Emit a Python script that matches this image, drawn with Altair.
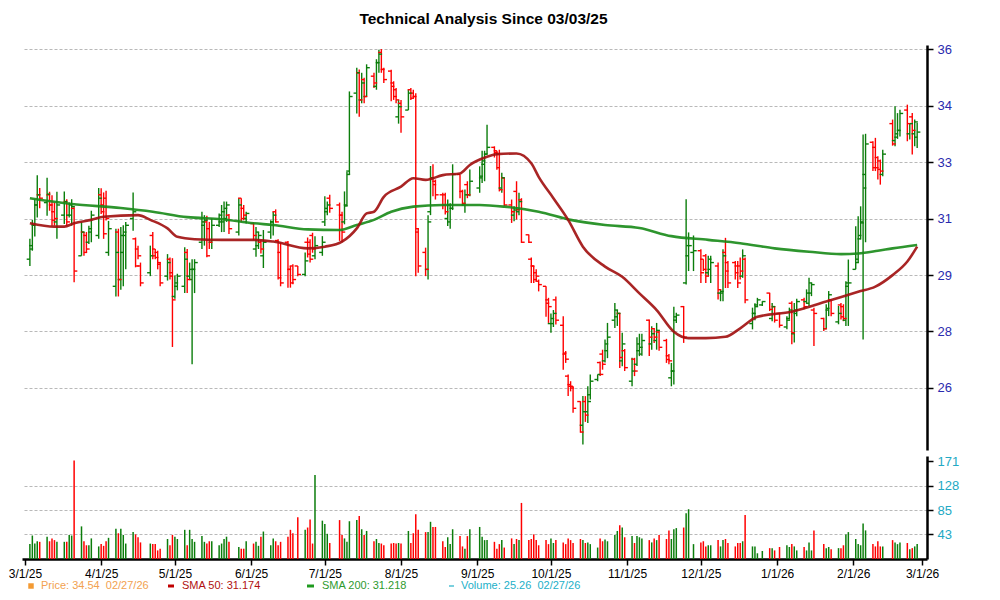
import altair as alt
import pandas as pd

# ---------------- data ----------------
HOLIDAYS = ["2025-04-18", "2025-05-26", "2025-06-19", "2025-07-04", "2025-09-01",
            "2025-11-27", "2025-12-25", "2026-01-01", "2026-01-19", "2026-02-16"]
TRADING_DAYS = pd.bdate_range("2025-03-03", "2026-02-27", freq="C", holidays=HOLIDAYS)

OPEN = [
    29.8, 30.2, 30.8, 31.4, 31.7, 31.47, 31.7, 31.4, 31.2, 30.9, 31.1, 31.5, 31.1, 31.1, 31.3, 29.9, 30.6, 30.5, 30.3, 30.6, 30.5,
    31.7, 31.4, 31.6, 30.0, 29.0, 30.6, 29.2, 30.0, 30.5, 31.0, 30.4, 30.1, 29.6, 29.4, 30.5, 30.1, 30.0, 29.65, 29.3, 29.8, 29.4,
    28.7, 29.0, 29.0, 30.0, 29.3, 29.2, 29.5, 30.3, 30.8, 30.9, 30.7, 30.3, 30.8, 30.9, 30.9, 31.0, 31.1, 30.6, 31.6, 31.3, 31.0,
    30.85, 30.1, 30.2, 30.3, 29.9, 30.6, 30.9, 31.2, 30.35, 30.0, 30.3, 29.5, 29.6, 29.6, 29.35, 30.3, 30.3, 30.5, 29.9, 30.0,
    30.9, 31.2, 31.6, 31.4, 31.1, 30.9, 31.4, 32.4, 34.7, 35.3, 34.5, 35.1, 34.6, 35.2, 34.9, 35.6, 35.9, 35.4, 35.35, 35.0, 34.8, 34.0,
    34.4, 34.2, 34.8, 34.7, 34.6, 30.6, 30.0, 29.5, 31.2, 32.2, 32.1, 31.7, 31.7, 31.0, 30.9, 31.3, 32.3, 31.8, 31.4, 32.0, 31.7,
    31.9, 32.2, 32.6, 32.9, 33.1, 33.0, 32.9, 31.9, 32.2, 31.4, 31.1, 31.8, 31.2, 31.55, 30.52, 29.8, 29.6, 29.4, 29.15, 29.0, 28.6,
    27.9, 27.9, 28.6, 27.85, 27.0, 26.35, 26.1, 26.05, 25.6, 24.9, 25.6, 25.3, 25.8, 26.25, 26.75, 27.0, 26.8, 27.1, 28.0, 28.1, 28.2, 26.8, 27.1,
    26.2, 26.85, 26.7, 27.1, 27.0, 28.0, 27.3, 27.75, 27.4, 27.65, 27.4, 26.95, 26.3, 26.5, 28.0, 28.4, 29.1, 29.9, 30.0,
    30.05, 29.8, 29.9, 29.4, 29.5, 29.6, 28.8, 28.8, 30.0, 29.7, 29.7, 29.6, 29.6, 29.3, 29.8, 27.9, 28.2, 28.45, 28.45, 28.8, 28.05, 28.4,
    28.2, 27.8, 28.05, 28.5, 27.6, 28.2, 28.6, 28.55, 28.5, 28.8, 28.3, 28.05, 27.75, 28.3, 28.6, 27.95, 28.45, 28.4, 28.0, 29.0,
    29.5, 29.8, 30.4, 30.9, 32.3, 33.25, 33.1, 32.8, 32.7, 32.3, 33.8, 33.3, 33.4, 33.6, 34.2, 33.5, 34.0, 33.5, 33.4,
]
HIGH = [
    30.4, 30.96, 31.57, 32.28, 31.9, 32.2, 31.79, 31.69, 31.47, 31.79, 31.8, 31.57, 31.47, 31.57, 31.33, 30.89, 30.6, 30.6, 30.79, 31.23, 31.9,
    31.89, 31.77, 31.82, 30.93, 30.7, 30.7, 30.75, 30.8, 30.9, 31.77, 30.44, 30.2, 29.7, 30.2, 30.6, 30.1, 30.05, 29.7, 29.95, 29.85, 29.83,
    29.32, 29.37, 30.15, 30.1, 29.7, 29.8, 29.8, 31.2, 31.1, 31.08, 30.9, 31.0, 31.15, 31.4, 31.5, 31.5, 31.13, 31.6, 31.6, 31.4, 31.2,
    30.88, 30.75, 30.6, 30.36, 30.66, 30.95, 31.2, 31.27, 30.39, 30.29, 30.34, 29.6, 29.65, 29.6, 30.0, 30.44, 30.39, 30.58, 30.48, 30.48,
    31.66, 31.5, 31.7, 31.47, 31.2, 31.8, 32.37, 34.75, 35.45, 35.4, 35.3, 35.15, 35.55, 35.3, 35.7, 35.98, 36.0, 35.45, 35.39, 35.05, 34.85, 34.5,
    34.5, 34.8, 34.85, 34.8, 34.7, 30.7, 30.14, 31.1, 32.55, 32.6, 32.15, 31.76, 31.76, 31.56, 31.45, 32.6, 32.3, 31.85, 31.86, 32.1, 32.45,
    32.54, 33.0, 33.0, 33.77, 33.13, 33.0, 33.03, 32.35, 32.2, 31.56, 31.36, 32.1, 31.76, 31.6, 30.53, 29.85, 29.6, 29.5, 29.2, 29.0, 28.66,
    28.2, 28.3, 28.7, 28.12, 27.09, 26.4, 26.2, 26.05, 25.61, 25.76, 25.76, 26.05, 26.4, 26.4, 26.78, 27.13, 27.43, 27.92, 28.51, 28.3, 28.22, 27.63, 27.15,
    26.89, 26.89, 27.5, 27.6, 27.6, 28.02, 27.82, 27.77, 27.92, 27.7, 27.45, 27.0, 26.74, 28.4, 28.22, 28.42, 31.57, 30.59, 30.5,
    30.09, 29.8, 29.95, 29.9, 29.9, 29.7, 28.9, 30.09, 30.43, 29.75, 29.75, 29.75, 29.85, 30.09, 29.85, 28.37, 28.5, 28.66, 28.56, 28.81, 28.51, 28.42,
    28.22, 28.12, 28.37, 28.56, 28.51, 28.63, 28.66, 28.91, 29.25, 29.1, 28.37, 28.07, 28.47, 28.86, 28.61, 28.42, 28.51, 28.47, 29.15, 29.79,
    30.77, 31.07, 31.36, 33.48, 33.5, 33.28, 33.38, 32.84, 32.74, 33.03, 33.92, 34.31, 34.11, 34.21, 34.36, 33.82, 34.11, 33.92, 33.82,
]
LOW = [
    29.6, 30.05, 30.47, 31.03, 31.3, 31.08, 31.23, 30.79, 30.79, 30.4, 30.84, 30.79, 31.03, 30.79, 29.12, 29.9, 29.9, 30.0, 30.25, 30.3, 30.4,
    31.13, 30.4, 30.94, 29.9, 28.7, 28.7, 28.9, 29.0, 29.5, 30.64, 29.56, 29.8, 29.0, 29.3, 29.8, 29.8, 29.5, 29.0, 29.17, 29.2, 27.21,
    28.63, 28.88, 28.8, 28.8, 29.2, 26.7, 28.8, 30.1, 30.2, 29.86, 30.1, 30.1, 30.75, 30.6, 30.6, 30.9, 30.54, 30.5, 30.9, 30.95, 30.85,
    30.36, 29.87, 30.1, 29.97, 29.54, 30.4, 30.5, 30.88, 29.2, 29.0, 28.96, 28.96, 29.06, 29.3, 29.3, 29.85, 29.7, 29.99, 29.8, 29.9,
    30.78, 31.1, 31.17, 30.34, 30.3, 30.83, 31.37, 32.3, 34.1, 34.0, 34.4, 34.4, 34.6, 34.85, 34.8, 35.3, 35.3, 35.0, 34.46, 34.5, 34.4, 33.8,
    33.53, 34.2, 34.5, 34.55, 29.3, 29.4, 29.3, 29.2, 31.1, 31.66, 31.56, 31.27, 31.12, 30.78, 30.7, 31.25, 31.6, 31.37, 31.17, 31.6, 31.66,
    31.76, 32.05, 32.1, 32.9, 32.8, 32.44, 31.8, 31.76, 31.36, 30.87, 30.92, 30.97, 31.1, 30.28, 30.28, 29.1, 29.1, 29.15, 28.85, 28.1, 27.92,
    27.63, 27.8, 27.87, 26.54, 26.74, 25.76, 25.9, 25.27, 24.68, 24.33, 25.0, 24.97, 25.66, 26.2, 26.35, 26.54, 26.75, 26.88, 27.77, 27.83, 26.59, 26.64, 26.5,
    26.05, 26.35, 26.65, 26.94, 26.95, 26.94, 27.13, 27.33, 27.13, 27.1, 26.74, 26.7, 26.05, 26.1, 27.92, 27.33, 29.05, 29.45, 29.45,
    29.1, 29.45, 29.1, 29.3, 29.1, 28.61, 28.56, 28.56, 28.95, 28.95, 29.2, 28.95, 29.2, 29.25, 28.5, 27.73, 28.0, 28.42, 28.42, 28.27, 27.97, 27.93,
    27.78, 27.73, 28.02, 27.29, 27.34, 28.12, 28.32, 28.51, 28.42, 28.71, 27.24, 27.68, 27.73, 28.12, 28.12, 27.88, 28.02, 27.97, 27.83, 27.83,
    29.5, 29.69, 30.38, 27.43, 30.3, 32.4, 32.4, 32.15, 32.0, 32.25, 33.15, 33.13, 33.35, 33.42, 33.28, 33.33, 32.89, 33.13, 33.08,
]
CLOSE = [
    30.1, 30.8, 31.4, 31.7, 31.6, 31.72, 31.4, 30.95, 31.0, 31.4, 31.5, 30.9, 31.4, 31.35, 29.45, 30.6, 30.0, 30.1, 30.7, 31.1, 31.6,
    31.2, 30.55, 31.0, 30.7, 30.0, 29.2, 30.5, 30.6, 30.8, 31.2, 29.6, 29.9, 29.1, 29.9, 29.9, 29.85, 29.7, 29.1, 29.7, 29.3, 28.6,
    29.1, 29.3, 29.8, 29.2, 29.5, 29.5, 29.7, 30.9, 30.95, 29.9, 30.3, 30.8, 31.1, 31.2, 31.3, 31.4, 30.7, 31.4, 31.0, 31.1, 31.15,
    30.5, 30.6, 30.5, 30.1, 30.3, 30.9, 31.1, 30.9, 29.25, 29.1, 29.5, 29.1, 29.2, 29.35, 29.75, 29.95, 29.8, 30.1, 30.2, 30.3,
    31.3, 31.4, 31.3, 31.1, 30.6, 31.37, 32.3, 34.6, 35.3, 34.5, 35.0, 34.6, 35.45, 35.0, 35.6, 35.85, 35.4, 35.1, 34.9, 34.6, 34.5, 34.3,
    34.0, 34.7, 34.55, 34.6, 30.7, 29.6, 29.5, 30.9, 32.2, 32.0, 31.7, 31.4, 31.2, 31.4, 31.3, 32.3, 31.8, 31.45, 31.7, 31.7, 32.1,
    32.25, 32.7, 32.9, 33.1, 32.95, 32.5, 31.85, 32.2, 31.4, 31.2, 31.25, 31.26, 31.5, 30.3, 30.3, 29.6, 29.2, 29.3, 29.05, 28.5, 28.4,
    28.05, 28.2, 28.0, 27.03, 26.85, 26.05, 26.0, 25.4, 24.7, 25.3, 25.2, 25.6, 26.2, 26.4, 26.4, 26.7, 27.3, 27.5, 28.3, 28.2, 26.9, 27.3, 26.6,
    26.5, 26.5, 27.3, 27.2, 27.4, 27.5, 27.6, 27.5, 27.7, 27.2, 26.84, 26.8, 26.5, 28.1, 28.15, 27.5, 30.2, 30.2, 30.05,
    29.4, 29.5, 29.3, 29.8, 29.7, 28.9, 28.85, 29.9, 29.45, 29.1, 29.4, 29.1, 29.45, 29.9, 28.6, 28.2, 28.4, 28.6, 28.55, 28.32, 28.4, 28.0,
    27.85, 28.0, 28.3, 27.63, 28.3, 28.55, 28.4, 28.8, 29.1, 29.05, 28.2, 27.75, 28.35, 28.75, 28.2, 28.2, 28.1, 28.05, 29.1, 29.1,
    29.7, 30.5, 30.87, 31.9, 33.2, 32.5, 32.5, 32.45, 32.4, 32.9, 33.2, 33.5, 33.6, 34.1, 33.8, 33.8, 33.6, 33.85, 33.55,
]
VOLUME = [
    26, 41, 27, 31, 30, 39, 31, 36, 33, 30, 30, 30, 42, 41, 172, 57, 31, 24, 24, 36, 22,
    26, 23, 31, 37, 53, 45, 53, 42, 27, 47, 43, 38, 29, 27, 26, 26, 15, 18, 35, 24, 42,
    39, 35, 51, 24, 51, 35, 30, 40, 30, 27, 31, 31, 24, 27, 35, 39, 30, 21, 18, 18, 31,
    27, 30, 23, 39, 48, 24, 36, 31, 24, 30, 39, 51, 45, 73, 51, 55, 69, 27, 147, 67,
    61, 44, 28, 68, 42, 36, 30, 66, 68, 75, 52, 42, 49, 31, 35, 28, 27, 24, 27, 28, 27, 28,
    27, 49, 28, 45, 78, 51, 47, 47, 65, 56, 56, 31, 21, 38, 26, 52, 40, 22, 18, 40, 52,
    56, 39, 33, 33, 30, 18, 26, 33, 20, 36, 26, 35, 33, 98, 33, 35, 43, 33, 24, 33, 26,
    36, 28, 33, 29, 26, 36, 33, 28, 35, 33, 28, 29, 26, 20, 36, 31, 34, 31, 42, 49, 59, 55, 38,
    40, 28, 40, 38, 36, 33, 29, 36, 33, 42, 35, 50, 35, 52, 54, 55, 80, 87, 26,
    29, 31, 22, 24, 24, 33, 22, 33, 35, 28, 22, 28, 28, 31, 77, 22, 22, 10, 14, 19, 19, 15,
    21, 24, 21, 26, 22, 15, 21, 15, 29, 15, 50, 26, 19, 21, 17, 19, 19, 24, 43, 47,
    35, 26, 24, 62, 50, 26, 22, 31, 22, 22, 33, 29, 26, 29, 28, 17, 19, 22, 26,
]

SMA50_DATES = ["2025-03-03", "2025-03-13", "2025-03-17", "2025-03-21", "2025-03-28", "2025-04-02", "2025-04-16",
               "2025-04-21", "2025-04-28", "2025-05-02", "2025-05-09", "2025-05-20", "2025-06-02", "2025-06-10",
               "2025-06-24", "2025-07-01", "2025-07-08", "2025-07-14", "2025-07-18", "2025-07-21", "2025-07-25",
               "2025-08-01", "2025-08-06", "2025-08-11", "2025-08-18", "2025-08-25", "2025-08-29", "2025-09-05",
               "2025-09-09", "2025-09-17", "2025-09-23", "2025-09-26", "2025-10-02", "2025-10-08", "2025-10-14",
               "2025-10-23", "2025-10-30", "2025-11-06", "2025-11-13", "2025-11-20", "2025-11-26", "2025-12-03",
               "2025-12-11", "2025-12-17", "2025-12-24", "2026-01-07", "2026-01-21", "2026-02-03", "2026-02-10",
               "2026-02-17", "2026-02-23", "2026-02-27"]
SMA50_VALUES = [30.86, 30.76, 30.76, 30.86, 30.96, 31.05, 31.10, 30.96, 30.71, 30.46, 30.39, 30.37, 30.37, 30.32,
                30.12, 30.17, 30.32, 30.71, 31.15, 31.20, 31.64, 31.94, 32.19, 32.14, 32.28, 32.33, 32.58, 32.82,
                32.90, 32.92, 32.63, 32.23, 31.60, 30.96, 30.17, 29.58, 29.28, 28.79, 28.30, 27.66, 27.47, 27.47,
                27.51, 27.76, 28.10, 28.25, 28.55, 28.84, 28.99, 29.33, 29.73, 30.17]
SMA200_DATES = ["2025-03-03", "2025-03-20", "2025-04-09", "2025-04-22", "2025-05-06", "2025-05-20", "2025-06-02",
                "2025-06-10", "2025-06-24", "2025-07-07", "2025-07-14", "2025-07-21", "2025-07-28", "2025-08-06",
                "2025-08-18", "2025-09-02", "2025-09-12", "2025-09-26", "2025-10-09", "2025-10-23", "2025-11-06",
                "2025-11-19", "2025-12-04", "2025-12-17", "2025-12-31", "2026-01-14", "2026-01-27", "2026-02-03",
                "2026-02-11", "2026-02-17", "2026-02-27"]
SMA200_VALUES = [31.60, 31.43, 31.31, 31.20, 31.04, 30.98, 30.86, 30.81, 30.68, 30.66, 30.81, 30.96, 31.20, 31.35,
                 31.40, 31.40, 31.35, 31.20, 30.96, 30.81, 30.72, 30.48, 30.37, 30.27, 30.12, 30.02, 29.95, 29.97,
                 30.05, 30.12, 30.22]

MONTH_TICKS = ["2025-03-01", "2025-04-01", "2025-05-01", "2025-06-01", "2025-07-01", "2025-08-01", "2025-09-01",
               "2025-10-01", "2025-11-01", "2025-12-01", "2026-01-01", "2026-02-01", "2026-03-01"]
PRICE_TICKS = [26, 27.667, 29.333, 31, 32.667, 34.333, 36]
VOLUME_TICKS = [43, 85, 128, 171]
LEGEND = ["Price: 34.54\u00a0 02/27/26", "SMA 50: 31.174", "SMA 200: 31.218", "Volume: 25.26\u00a0 02/27/26"]
TITLE = "Technical Analysis Since 03/03/25"

for name, arr in [("OPEN", OPEN), ("HIGH", HIGH), ("LOW", LOW), ("CLOSE", CLOSE), ("VOLUME", VOLUME)]:
    assert len(arr) == len(TRADING_DAYS), (name, len(arr), len(TRADING_DAYS))
assert len(SMA50_DATES) == len(SMA50_VALUES)
assert len(SMA200_DATES) == len(SMA200_VALUES)


def ms(d):
    return int(pd.Timestamp(d, tz="UTC").timestamp() * 1000)


df = pd.DataFrame({
    "t": [ms(d) for d in TRADING_DAYS],
    "open": OPEN, "high": HIGH, "low": LOW, "close": CLOSE, "volume": VOLUME,
})
sma50 = pd.DataFrame({"t": [ms(d) for d in SMA50_DATES], "v": SMA50_VALUES})
sma200 = pd.DataFrame({"t": [ms(d) for d in SMA200_DATES], "v": SMA200_VALUES})

# ---------------- styling ----------------
GREEN = "#0b7d0b"
RED = "#ff0000"
VGREEN = "#1fb21f"
VRED = "#ff2200"
FONT = "Liberation Sans"
W, H_PRICE, H_VOL = 905, 405, 103

x_scale = alt.Scale(type="utc", domain=[ms("2025-02-27 19:00"), ms("2026-03-03 00:00")])
price_scale = alt.Scale(domain=[24.17, 36.12], nice=False, zero=False)
vol_scale = alt.Scale(domain=[0, 180], nice=False)

price_axis = alt.Axis(orient="right", values=PRICE_TICKS, labelExpr="format(datum.value, '.0f')",
                      grid=True, gridDash=[3, 2], gridColor="#b9b9b9", gridWidth=1,
                      domainColor="black", domainWidth=2.5, tickColor="black", tickSize=6, tickWidth=1.5,
                      labelColor="#2a2aae", labelFontSize=13, labelPadding=4, title=None)
vol_axis = alt.Axis(orient="right", values=VOLUME_TICKS, grid=True, gridDash=[3, 2], gridColor="#b9b9b9",
                    gridOpacity={"condition": {"test": "datum.value > 150", "value": 0}, "value": 1},
                    domainColor="black", domainWidth=2.5, tickColor="black", tickSize=6, tickWidth=1.5,
                    labelColor="#22a9c4", labelFontSize=13, labelPadding=4, title=None)
x_axis = alt.Axis(values=[ms(d) for d in MONTH_TICKS], labelExpr="utcFormat(datum.value, '%-m/%-d/%y')",
                  grid=False, title=None, tickSize=6, tickWidth=1.5, tickColor="black",
                  domainColor="black", domainWidth=2.5, labelColor="black", labelFontSize=12,
                  labelPadding=3, labelFlush=False, labelOverlap=False)

# ---------------- price panel ----------------
base = alt.Chart(df).transform_calculate(
    tl="datum.t - 1.3 * 86400000",
    tr="datum.t + 1.3 * 86400000",
    dir="datum.close >= datum.open ? 'up' : 'down'",
)
pcolor = alt.Color("dir:N", scale=alt.Scale(domain=["up", "down"], range=[GREEN, RED]), legend=None)

hl = base.mark_rule(strokeWidth=1.4).encode(
    x=alt.X("t:T", scale=x_scale, axis=None),
    y=alt.Y("low:Q", scale=price_scale, axis=price_axis),
    y2="high:Q",
    color=pcolor,
)
op = base.mark_rule(strokeWidth=1.4).encode(x="t:T", x2="tl:T", y="open:Q", color=pcolor)
cl = base.mark_rule(strokeWidth=1.4).encode(x="t:T", x2="tr:T", y="close:Q", color=pcolor)

l200 = alt.Chart(sma200).mark_line(color="#178a17", strokeWidth=2.6, opacity=0.9, interpolate="monotone").encode(
    x="t:T", y="v:Q")
l50 = alt.Chart(sma50).mark_line(color="#a00d0d", strokeWidth=2.6, opacity=0.9, interpolate="monotone").encode(
    x="t:T", y="v:Q")

price = alt.layer(hl, op, cl, l200, l50).properties(width=W, height=H_PRICE)

# ---------------- volume panel ----------------
vbars = alt.Chart(df).transform_calculate(
    dir="datum.close >= datum.open ? 'up' : 'down'"
).mark_rule(strokeWidth=1.5).encode(
    x=alt.X("t:T", scale=x_scale, axis=x_axis),
    y=alt.Y("volume:Q", scale=vol_scale, axis=vol_axis),
    y2=alt.datum(0),
    color=alt.Color("dir:N", scale=alt.Scale(domain=["up", "down"], range=[VGREEN, VRED]), legend=None),
)

one = pd.DataFrame({"k": [0]})
LY = 130
leg_layers = [
    alt.Chart(one).mark_square(size=30, color="#f39a33", opacity=1).encode(x=alt.value(9), y=alt.value(LY)),
    alt.Chart(one).mark_text(text=LEGEND[0], color="#f2a150", align="left", baseline="middle", fontSize=11).encode(
        x=alt.value(19), y=alt.value(LY)),
    alt.Chart(one).mark_rule(color="#c00000", strokeWidth=3).encode(x=alt.value(146), x2=alt.value(152), y=alt.value(LY)),
    alt.Chart(one).mark_text(text=LEGEND[1], color="#b01010", align="left", baseline="middle", fontSize=11).encode(
        x=alt.value(160), y=alt.value(LY)),
    alt.Chart(one).mark_rule(color="#1f9a1f", strokeWidth=3).encode(x=alt.value(285), x2=alt.value(292), y=alt.value(LY)),
    alt.Chart(one).mark_text(text=LEGEND[2], color="#2e9a2e", align="left", baseline="middle", fontSize=11).encode(
        x=alt.value(300), y=alt.value(LY)),
    alt.Chart(one).mark_rule(color="#22b0c8", strokeWidth=1.2).encode(x=alt.value(427), x2=alt.value(432), y=alt.value(LY)),
    alt.Chart(one).mark_text(text=LEGEND[3], color="#22b0c8", align="left", baseline="middle", fontSize=11).encode(
        x=alt.value(439), y=alt.value(LY)),
]

volume = alt.layer(vbars, *leg_layers).properties(width=W, height=H_VOL)

chart = alt.vconcat(price, volume, spacing=5).properties(
    title=alt.TitleParams(TITLE, anchor="middle", fontSize=15.5, fontWeight="bold", font=FONT, color="black", offset=16),
    padding={"left": 0, "top": 3, "right": 5, "bottom": 0},
).configure(font=FONT).configure_view(stroke=None)

chart.save("out.html", embed_options={"renderer": "svg", "actions": False})
